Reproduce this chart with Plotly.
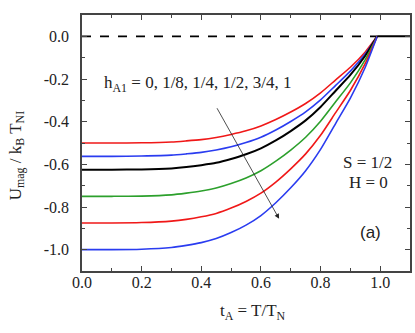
import plotly.graph_objects as go

# temperature grid t_A = T/T_N
t = [0.0, 0.1, 0.2, 0.3, 0.35, 0.4, 0.45, 0.5, 0.55, 0.6, 0.65, 0.7, 0.75, 0.8, 0.85, 0.9, 0.95, 0.99]

# U_mag / k_B T_NI for h_A1 = 1, 3/4, 1/2, 1/4, 1/8, 0 (top to bottom)
u_h1 = [-0.5, -0.5, -0.499, -0.495, -0.49, -0.484, -0.474, -0.46, -0.443, -0.42, -0.39, -0.355, -0.315, -0.265, -0.205, -0.145, -0.073, 0.0]
u_h34 = [-0.5625, -0.5625, -0.561, -0.557, -0.551, -0.544, -0.533, -0.518, -0.498, -0.473, -0.439, -0.399, -0.354, -0.298, -0.231, -0.163, -0.082, 0.0]
u_h12 = [-0.625, -0.625, -0.624, -0.619, -0.613, -0.604, -0.593, -0.575, -0.553, -0.525, -0.488, -0.444, -0.394, -0.331, -0.256, -0.181, -0.091, 0.0]
u_h14 = [-0.75, -0.75, -0.749, -0.743, -0.735, -0.725, -0.711, -0.69, -0.664, -0.63, -0.585, -0.533, -0.473, -0.398, -0.308, -0.218, -0.109, 0.0]
u_h18 = [-0.875, -0.875, -0.873, -0.866, -0.858, -0.846, -0.83, -0.805, -0.774, -0.735, -0.683, -0.621, -0.551, -0.464, -0.359, -0.254, -0.127, 0.0]
u_h0 = [-1.0, -1.0, -0.998, -0.99, -0.98, -0.967, -0.948, -0.92, -0.885, -0.84, -0.78, -0.71, -0.63, -0.53, -0.41, -0.29, -0.145, 0.0]

# above T_N the energy is zero
t_para = [0.99, 1.1]
u_para = [0.0, 0.0]
t_ref = [0.0, 0.99]
u_ref = [0.0, 0.0]

series = [
    (u_h1, "#f01818", 1.6),
    (u_h34, "#2a3cf0", 1.6),
    (u_h12, "#000000", 2.0),
    (u_h14, "#2ca02c", 1.6),
    (u_h18, "#f01818", 1.6),
    (u_h0, "#2a3cf0", 1.6),
]

y_tickvals = [0.0, -0.2, -0.4, -0.6, -0.8, -1.0]
y_ticktext = ["0.0", "-0.2", "-0.4", "-0.6", "-0.8", "-1.0"]
x_tickvals = [0.0, 0.2, 0.4, 0.6, 0.8, 1.0]
x_ticktext = ["0.0", "0.2", "0.4", "0.6", "0.8", "1.0"]

fig = go.Figure()
fig.add_trace(go.Scatter(x=t_ref, y=u_ref, mode="lines",
                         line=dict(color="black", width=1.6, dash="dash"), showlegend=False))
for u, c, w in series:
    fig.add_trace(go.Scatter(x=t, y=u, mode="lines", line=dict(color=c, width=w, shape="spline", smoothing=0.6),
                             showlegend=False))
fig.add_trace(go.Scatter(x=t_para, y=u_para, mode="lines",
                         line=dict(color="black", width=2), showlegend=False))

serif = "Liberation Serif, Times New Roman, serif"
axis_common = dict(
    showline=True, linecolor="#444", linewidth=1.5, mirror="ticks",
    ticks="inside", ticklen=5, tickwidth=1, tickcolor="#444",
    showgrid=False, zeroline=False,
    tickfont=dict(family=serif, size=16, color="#222"),
)
fig.update_xaxes(range=[0, 1.1], tickvals=x_tickvals, ticktext=x_ticktext, ticklabelstandoff=-4,
                 minor=dict(ticks="inside", ticklen=3, dtick=0.1, tick0=0, tickcolor="#444"),
                 **axis_common)
fig.update_yaxes(range=[-1.1, 0.1], tickvals=y_tickvals, ticktext=y_ticktext, ticklabelstandoff=8,
                 minor=dict(ticks="inside", ticklen=3, dtick=0.1, tick0=0, tickcolor="#444"),
                 **axis_common)

annos = [
    dict(x=0.068, y=-0.225, text="h<sub>A1</sub> = 0, 1/8, 1/4, 1/2, 3/4, 1", xanchor="left", yanchor="middle",
         font=dict(family=serif, size=17, color="#222")),
    dict(x=0.958, y=-0.59, text="S = 1/2", xanchor="center", yanchor="middle",
         font=dict(family=serif, size=17, color="#222")),
    dict(x=0.96, y=-0.685, text="H = 0", xanchor="center", yanchor="middle",
         font=dict(family=serif, size=17, color="#222")),
    dict(x=0.968, y=-0.92, text="(a)", xanchor="center", yanchor="middle",
         font=dict(family="Liberation Sans, Arial, sans-serif", size=17, color="#222")),
]
for a in annos:
    fig.add_annotation(showarrow=False, xref="x", yref="y", **a)

# arrow indicating increasing h
fig.add_annotation(x=0.661, y=-0.855, ax=0.45, ay=-0.33, xref="x", yref="y", axref="x", ayref="y",
                   text="", showarrow=True, arrowhead=2, arrowsize=1.2, arrowwidth=0.8, arrowcolor="#222")

# axis titles
fig.add_annotation(x=0.52, y=-0.16, xref="x domain", yref="paper", xanchor="center", yanchor="middle",
                   text="t<sub>A</sub> = T/T<sub>N</sub>", showarrow=False,
                   font=dict(family=serif, size=17, color="#222"))
fig.add_annotation(x=-0.2, y=0.45, xref="paper", yref="paper", xanchor="center", yanchor="middle",
                   text="U<sub>mag</sub> / k<sub>B</sub> T<sub>NI</sub>", showarrow=False, textangle=-90,
                   font=dict(family=serif, size=17, color="#222"))

fig.update_layout(
    width=415, height=333,
    margin=dict(l=82, r=3, t=15, b=62),
    paper_bgcolor="white", plot_bgcolor="white",
    showlegend=False,
)

fig.write_html("out.html", config={"displayModeBar": False},
               post_script="document.body.style.margin='0px';")
